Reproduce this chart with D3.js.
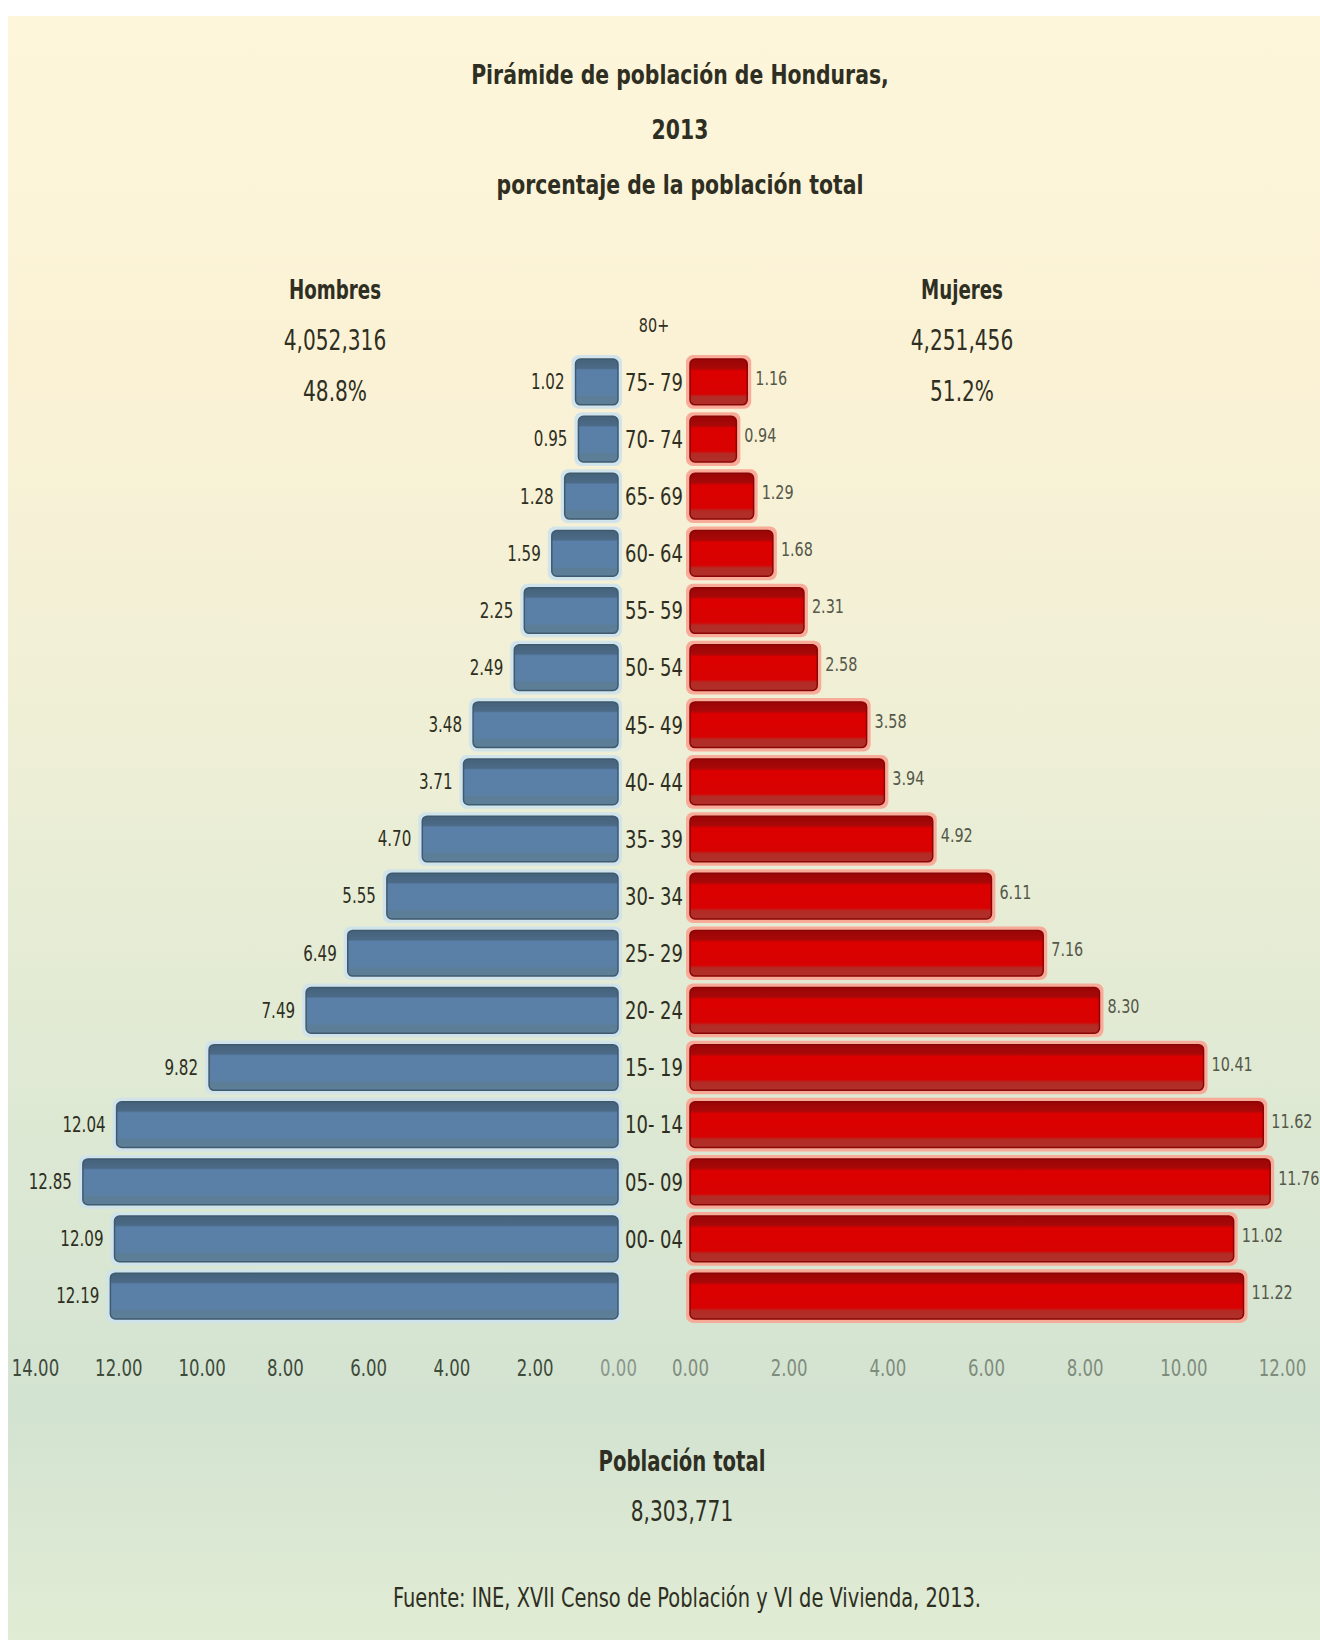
<!DOCTYPE html>
<html>
<head>
<meta charset="utf-8">
<script src="https://cdn.jsdelivr.net/npm/d3@7"></script>
<style>
  html, body { margin: 0; padding: 0; background: #ffffff; }
  svg { display: block; }
  text { font-family: "DejaVu Sans Condensed", "Liberation Sans Narrow", sans-serif; }
</style>
</head>
<body>
<svg id="chart" width="1320" height="1640"></svg>
<script>
// ---- Data ----
const ageGroups = ["80+", "75- 79", "70- 74", "65- 69", "60- 64", "55- 59", "50- 54", "45- 49",
  "40- 44", "35- 39", "30- 34", "25- 29", "20- 24", "15- 19", "10- 14", "05- 09", "00- 04"];
const menValues = [1.02, 0.95, 1.28, 1.59, 2.25, 2.49, 3.48, 3.71, 4.70, 5.55, 6.49, 7.49, 9.82, 12.04, 12.85, 12.09, 12.19];
const womenValues = [1.16, 0.94, 1.29, 1.68, 2.31, 2.58, 3.58, 3.94, 4.92, 6.11, 7.16, 8.30, 10.41, 11.62, 11.76, 11.02, 11.22];
const leftTicks = [0, 2, 4, 6, 8, 10, 12, 14];
const rightTicks = [0, 2, 4, 6, 8, 10, 12];
const titleLines = ["Pirámide de población de Honduras,", "2013", "porcentaje de la población total"];
const menHeader = ["Hombres", "4,052,316", "48.8%"];
const womenHeader = ["Mujeres", "4,251,456", "51.2%"];
const totalLines = ["Población total", "8,303,771"];
const sourceText = "Fuente: INE, XVII Censo de Población y VI de Vivienda, 2013.";

// ---- Setup ----
const svg = d3.select("#chart");
const defs = svg.append("defs");

const bg = defs.append("linearGradient").attr("id", "bgGrad")
  .attr("x1", 0).attr("y1", 0).attr("x2", 0).attr("y2", 1);
[["0%", "#fdf6da"], ["22%", "#fbf2d6"], ["45%", "#eeefd6"], ["70%", "#dce8d3"], ["86%", "#d3e3d1"], ["100%", "#e1ecd4"]]
  .forEach(([o, c]) => bg.append("stop").attr("offset", o).attr("stop-color", c));

const blueGrad = defs.append("linearGradient").attr("id", "blueGrad")
  .attr("x1", 0).attr("y1", 0).attr("x2", 0).attr("y2", 1);
[["0%", "#46627b"], ["20%", "#4b6a86"], ["24%", "#5a7fa8"], ["78%", "#5a80a6"], ["84%", "#5c7d96"], ["100%", "#5e7f98"]]
  .forEach(([o, c]) => blueGrad.append("stop").attr("offset", o).attr("stop-color", c));

const redGrad = defs.append("linearGradient").attr("id", "redGrad")
  .attr("x1", 0).attr("y1", 0).attr("x2", 0).attr("y2", 1);
[["0%", "#9a0606"], ["20%", "#a80808"], ["26%", "#dc0000"], ["76%", "#d80202"], ["82%", "#b32b25"], ["100%", "#b0302a"]]
  .forEach(([o, c]) => redGrad.append("stop").attr("offset", o).attr("stop-color", c));

svg.append("rect").attr("x", 8).attr("y", 16).attr("width", 1312).attr("height", 1624)
  .attr("fill", "url(#bgGrad)");

// ---- Scales ----
const y = d3.scaleBand().domain(ageGroups).range([353.4, 1324.6])
  .paddingInner(0.2).paddingOuter(0.1);
const xL = d3.scaleLinear().domain([0, 14]).range([618, 35]);
const xR = d3.scaleLinear().domain([0, 12]).range([690, 1282]);

const textColor = "#2e2f22";

// ---- Bars ----
const glow = 4;
const men = svg.append("g").selectAll("g").data(ageGroups).join("g");
men.append("rect")
  .attr("x", (d, i) => xL(menValues[i]) - glow)
  .attr("y", d => y(d) - glow)
  .attr("width", (d, i) => xL(0) - xL(menValues[i]) + glow * 2)
  .attr("height", y.bandwidth() + glow * 2)
  .attr("rx", 7).attr("fill", "#cfe3ec").attr("opacity", 0.95);
men.append("rect")
  .attr("x", (d, i) => xL(menValues[i]))
  .attr("y", d => y(d))
  .attr("width", (d, i) => xL(0) - xL(menValues[i]))
  .attr("height", y.bandwidth())
  .attr("rx", 5).attr("fill", "url(#blueGrad)")
  .attr("stroke", "#3f5a6e").attr("stroke-width", 1.5);

const women = svg.append("g").selectAll("g").data(ageGroups).join("g");
women.append("rect")
  .attr("x", xR(0) - glow)
  .attr("y", d => y(d) - glow)
  .attr("width", (d, i) => xR(womenValues[i]) - xR(0) + glow * 2)
  .attr("height", y.bandwidth() + glow * 2)
  .attr("rx", 7).attr("fill", "#f8a695").attr("opacity", 0.95);
women.append("rect")
  .attr("x", xR(0))
  .attr("y", d => y(d))
  .attr("width", (d, i) => xR(womenValues[i]) - xR(0))
  .attr("height", y.bandwidth())
  .attr("rx", 5).attr("fill", "url(#redGrad)")
  .attr("stroke", "#8a0505").attr("stroke-width", 1.5);

// ---- Value labels ----
svg.append("g").selectAll("text").data(ageGroups).join("text")
  .attr("x", (d, i) => xL(menValues[i]) - 11)
  .attr("y", d => y(d) + y.bandwidth() / 2)
  .attr("dy", "0.35em").attr("text-anchor", "end")
  .attr("font-size", 21).attr("fill", textColor)
  .text((d, i) => menValues[i].toFixed(2));

svg.append("g").selectAll("text").data(ageGroups).join("text")
  .attr("x", (d, i) => xR(womenValues[i]) + 8)
  .attr("y", d => y(d) + y.bandwidth() / 2 - 4)
  .attr("dy", "0.35em").attr("text-anchor", "start")
  .attr("font-size", 20).attr("fill", "#55584a")
  .text((d, i) => womenValues[i].toFixed(2));

// ---- Age group labels (shifted one row up, as in the original) ----
svg.append("g").selectAll("text").data(ageGroups).join("text")
  .attr("x", (xL(0) + xR(0)) / 2)
  .attr("y", d => y(d) - y.step() + y.bandwidth() / 2)
  .attr("dy", "0.35em").attr("text-anchor", "middle")
  .attr("font-size", (d, i) => i === 0 ? 20 : 25)
  .attr("fill", textColor)
  .text(d => d);

// ---- Axes ----
const axL = svg.append("g").attr("transform", "translate(0,1357)")
  .call(d3.axisBottom(xL).tickValues(leftTicks).tickFormat(d3.format(".2f")).tickSize(0));
const axR = svg.append("g").attr("transform", "translate(0,1357)")
  .call(d3.axisBottom(xR).tickValues(rightTicks).tickFormat(d3.format(".2f")).tickSize(0));
[axL, axR].forEach(a => {
  a.select(".domain").remove();
  a.selectAll("text").attr("font-size", 23)
    .attr("font-family", "'DejaVu Sans Condensed', sans-serif");
});
axL.selectAll("text").attr("fill", "#3e4a3a");
axR.selectAll("text").attr("fill", "#7f8c7c");
axL.selectAll(".tick").filter(d => d === 0).select("text").attr("fill", "#8a968a");

// ---- Titles ----
svg.append("g").selectAll("text").data(titleLines).join("text")
  .attr("class", "title")
  .attr("x", 680).attr("y", (d, i) => 84 + i * 55)
  .attr("text-anchor", "middle").attr("font-size", 27).attr("font-weight", "bold")
  .attr("fill", textColor).text(d => d);

[[menHeader, 335], [womenHeader, 962]].forEach(([lines, cx]) => {
  svg.append("g").selectAll("text").data(lines).join("text")
    .attr("x", cx).attr("y", (d, i) => 299 + i * 51)
    .attr("text-anchor", "middle")
    .attr("font-size", (d, i) => i === 0 ? 26 : 28)
    .attr("font-weight", (d, i) => i === 0 ? "bold" : "normal")
    .attr("fill", textColor).text(d => d);
});

svg.append("g").selectAll("text").data(totalLines).join("text")
  .attr("x", 682).attr("y", (d, i) => 1471 + i * 50)
  .attr("text-anchor", "middle").attr("font-size", 28)
  .attr("font-weight", (d, i) => i === 0 ? "bold" : "normal")
  .attr("fill", textColor).text(d => d);

svg.append("text").attr("x", 687).attr("y", 1607)
  .attr("text-anchor", "middle").attr("font-size", 27)
  .attr("fill", textColor).text(sourceText);

// ---- Narrow all text horizontally to mimic the condensed source font ----
svg.selectAll("text").each(function () {
  const t = d3.select(this);
  const x = +t.attr("x") || 0, yy = +t.attr("y") || 0;
  const bold = t.attr("font-weight") === "bold";
  const k = t.classed("title") ? 0.84 : (bold ? 0.78 : 0.8);
  t.attr("x", 0).attr("y", 0)
    .attr("transform", `translate(${x},${yy}) scale(${k},1)`);
});
</script>
</body>
</html>
